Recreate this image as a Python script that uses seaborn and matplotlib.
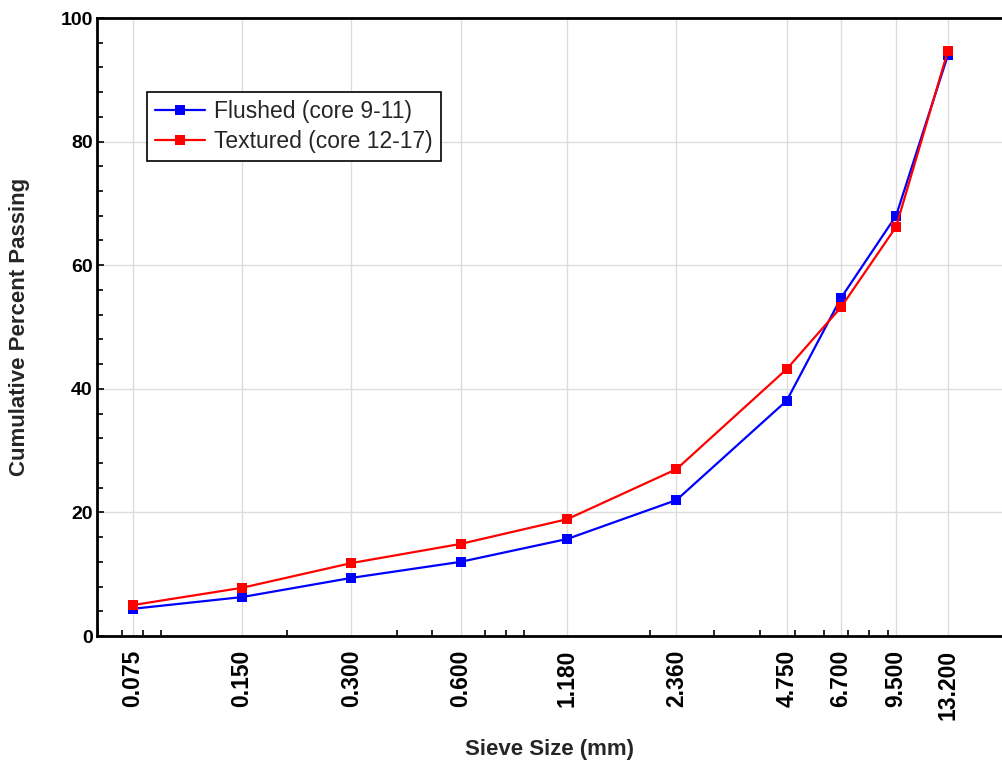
import numpy as np
import pandas as pd
import matplotlib
matplotlib.use("Agg")
import matplotlib.pyplot as plt
import matplotlib.ticker as mticker
import seaborn as sns

sieve_sizes = [0.075, 0.150, 0.300, 0.600, 1.180, 2.360, 4.750, 6.700, 9.500, 13.200]
tick_labels = ["0.075", "0.150", "0.300", "0.600", "1.180", "2.360", "4.750", "6.700", "9.500", "13.200"]
flushed = [4.4, 6.3, 9.4, 12.0, 15.7, 22.0, 38.1, 54.7, 68.0, 94.0]
textured = [5.0, 7.8, 11.8, 14.9, 18.9, 27.0, 43.2, 53.2, 66.2, 94.7]
series_names = ["Flushed (core 9-11)", "Textured (core 12-17)"]
colors = ["#0000FF", "#FF0000"]

df = pd.DataFrame({
    "size": sieve_sizes * 2,
    "passing": flushed + textured,
    "series": [series_names[0]] * len(sieve_sizes) + [series_names[1]] * len(sieve_sizes),
})

sns.set_style("white")
plt.rcParams["font.family"] = ["Liberation Sans", "DejaVu Sans"]

fig = plt.figure(figsize=(10.02, 7.66), dpi=100)
ax = fig.add_axes([0.0968, 0.1697, 0.9032, 0.8068])

sns.lineplot(data=df, x="size", y="passing", hue="series", palette=colors,
             marker="s", markersize=7, markeredgewidth=0, linewidth=1.6,
             ax=ax, legend=False)

ax.set_xscale("log")
ax.set_xlim(0.0598, 18.6)
ax.set_ylim(0, 100)

ax.xaxis.set_major_locator(mticker.FixedLocator(sieve_sizes))
ax.xaxis.set_major_formatter(mticker.FixedFormatter(tick_labels))
ax.xaxis.set_minor_locator(mticker.LogLocator(base=10, subs=np.arange(2, 10) * 1.0, numticks=20))
ax.xaxis.set_minor_formatter(mticker.NullFormatter())
ax.yaxis.set_major_locator(mticker.MultipleLocator(20))
ax.yaxis.set_minor_locator(mticker.MultipleLocator(4))

ax.grid(True, which="major", color="#DDDDDD", linewidth=1.0)
ax.set_axisbelow(True)

ax.tick_params(axis="both", which="both", bottom=True, left=True, top=False, right=False)
ax.tick_params(axis="y", which="major", direction="in", length=5, width=1.2, pad=3, colors="black")
ax.tick_params(axis="y", which="minor", direction="in", length=4, width=1.2, colors="black")
ax.tick_params(axis="x", which="minor", direction="in", length=4, width=1.2, colors="black")
ax.tick_params(axis="x", which="major", direction="in", length=0, pad=10, colors="black")

for lbl in ax.get_xticklabels():
    lbl.set_rotation(90)
    lbl.set_fontweight("bold")
    lbl.set_fontsize(16.5)
for lbl in ax.get_yticklabels():
    lbl.set_fontweight("bold")
    lbl.set_fontsize(14)

for side in ["left", "bottom", "top"]:
    ax.spines[side].set_visible(True)
    ax.spines[side].set_color("black")
    ax.spines[side].set_linewidth(2)
ax.spines["right"].set_visible(False)

ax.set_xlabel("Sieve Size (mm)", fontsize=16, fontweight="bold", labelpad=14)
ax.set_ylabel("Cumulative Percent Passing", fontsize=16, fontweight="bold", labelpad=22)

handles = ax.get_lines()[:2]
leg = ax.legend(handles, series_names, loc="upper left", bbox_to_anchor=(0.055, 0.88),
                fontsize=16.5, frameon=True, fancybox=False, edgecolor="black",
                framealpha=1, borderpad=0.35, handlelength=2.2, handletextpad=0.4,
                labelspacing=0.3, borderaxespad=0)
leg.get_frame().set_linewidth(1.2)

fig.savefig("out.png", dpi=100)
